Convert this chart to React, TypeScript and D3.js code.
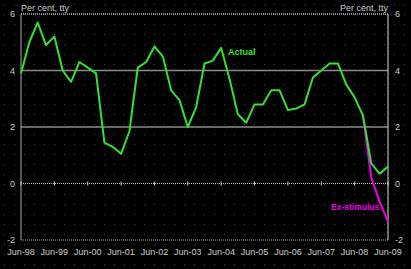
import React from "react";
import * as d3 from "d3";

const xLabels = ["Jun-98","Jun-99","Jun-00","Jun-01","Jun-02","Jun-03","Jun-04","Jun-05","Jun-06","Jun-07","Jun-08","Jun-09"];
const yTicks = [-2, 0, 2, 4, 6];
const actual = [3.9, 5.0, 5.7, 4.9, 5.2, 4.0, 3.6, 4.3, 4.1, 3.9, 1.45, 1.3, 1.05, 1.85, 4.1, 4.3, 4.85, 4.5, 3.3, 2.95, 2.0, 2.7, 4.25, 4.35, 4.8, 3.7, 2.45, 2.15, 2.8, 2.8, 3.3, 3.3, 2.6, 2.65, 2.8, 3.75, 4.0, 4.25, 4.25, 3.5, 3.05, 2.4, 0.7, 0.35, 0.6];
const exStimulusStart = 41;
const exStimulus = [2.4, 0.2, -0.65, -1.35];

const W = 411, H = 269;
const L = 21, R = 388, T = 14, B = 240;

export default function App() {
  const x = d3.scaleLinear().domain([0, actual.length - 1]).range([L, R]);
  const y = d3.scaleLinear().domain([-2, 6]).range([B, T]);
  const line = d3.line<number>().x((_, i) => x(i)).y(d => y(d));
  const line2 = d3.line<number>().x((_, i) => x(i + exStimulusStart)).y(d => y(d));
  const font = "'Liberation Sans', Arial, sans-serif";
  return (
    <svg width={W} height={H} style={{ position: "absolute", left: 0, top: 0, background: "#000" }} fontFamily={font}>
      <defs>
        <pattern id="dots" x={4} y={4} width={10} height={10} patternUnits="userSpaceOnUse">
          <rect width={1} height={1} fill="#4a4a4a" />
        </pattern>
      </defs>
      <rect width={W} height={H} fill="#000" />
      <rect width={W} height={H} fill="url(#dots)" />
      {/* gridlines */}
      {[2, 4].map(v => (
        <line key={v} x1={L} x2={R} y1={y(v)} y2={y(v)} stroke="#8c8c8c" strokeWidth={1.5} />
      ))}
      <line x1={L} x2={R} y1={y(6)} y2={y(6)} stroke="#bbb" strokeWidth={1.5} strokeDasharray="1,1" />
      <line x1={L} x2={R} y1={y(0)} y2={y(0)} stroke="#ccc" strokeWidth={1} strokeDasharray="1,1" />
      <line x1={L} x2={R} y1={y(-2)} y2={y(-2)} stroke="#aaa" strokeWidth={1} strokeDasharray="1,1" />
      <line x1={L} x2={L} y1={T} y2={B} stroke="#aaa" strokeWidth={1} />
      <line x1={R} x2={R} y1={T} y2={B} stroke="#ddd" strokeWidth={1} />
      {xLabels.map((_, k) => (
        <line key={k} x1={x(k * 4)} x2={x(k * 4)} y1={y(0) - 2} y2={y(0) + 2} stroke="#ccc" strokeWidth={1} />
      ))}
      {/* y labels */}
      {yTicks.map(v => (
        <g key={v}>
          <text x={15} y={y(v)} dy="0.35em" textAnchor="end" fontSize={9} fill="#ccc">{v}</text>
          <text x={395} y={y(v)} dy="0.35em" textAnchor="start" fontSize={9} fill="#ccc">{v}</text>
        </g>
      ))}
      {xLabels.map((lab, k) => (
        <text key={lab} x={x(k * 4)} y={252} dy="0.35em" textAnchor="middle" fontSize={9} fill="#ccc">{lab}</text>
      ))}
      <text x={L} y={8} dy="0.35em" fontSize={9} fill="#ccc">Per cent, tty</text>
      <text x={R} y={8} dy="0.35em" textAnchor="end" fontSize={9} fill="#ccc">Per cent, tty</text>
      {/* series */}
      <path d={line2(exStimulus) || ""} fill="none" stroke="#ee00ee" strokeWidth={2} />
      <path d={line(actual) || ""} fill="none" stroke="#33e033" strokeWidth={2} strokeLinejoin="round" />
      <text x={228} y={52} dy="0.35em" fontSize={9} fontWeight="bold" fill="#33e033">Actual</text>
      <text x={331} y={207} dy="0.35em" fontSize={8.5} fontWeight="bold" fill="#ee00ee">Ex-stimulus</text>
    </svg>
  );
}
